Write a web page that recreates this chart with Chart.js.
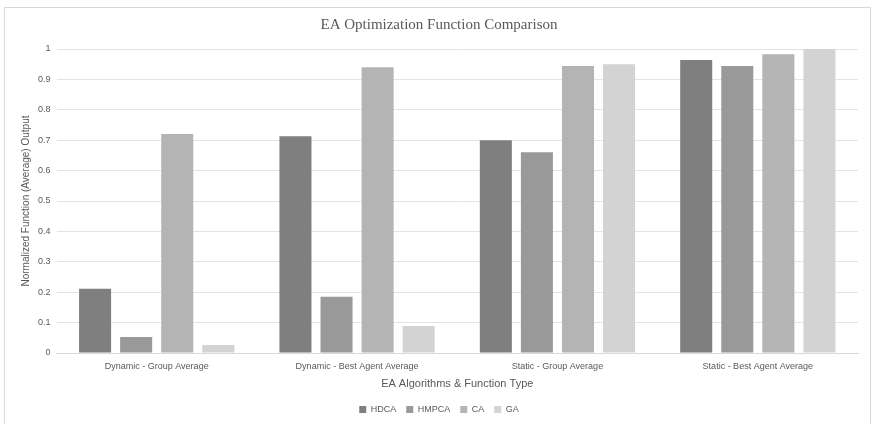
<!DOCTYPE html>
<html>
<head>
<meta charset="utf-8">
<script src="https://cdn.jsdelivr.net/npm/chart.js@4/dist/chart.umd.min.js"></script>
<style>
  html, body { margin: 0; padding: 0; background: #fff; }
  #wrap { position: relative; width: 878px; height: 424px; }
  #frame { position: absolute; left: 4px; top: 7px; width: 865px; height: 420px; border: 1px solid #d9d9d9; pointer-events: none; }
</style>
</head>
<body>
<div id="wrap">
  <canvas id="eaChart" width="878" height="424"></canvas>
  <div id="frame"></div>
</div>
<script>
// 카테고리 / 시리즈 데이터
const categories = ['Dynamic - Group Average', 'Dynamic - Best Agent Average', 'Static - Group Average', 'Static - Best Agent Average'];
const seriesNames = ['HDCA', 'HMPCA', 'CA', 'GA'];
const hdca  = [0.211, 0.713, 0.700, 0.964];
const hmpca = [0.053, 0.185, 0.660, 0.944];
const ca    = [0.720, 0.940, 0.944, 0.983];
const ga    = [0.026, 0.089, 0.950, 1.000];
const seriesColors = ['#7f7f7f', '#999999', '#b4b4b4', '#d3d3d3'];

const ctx = document.getElementById('eaChart');
new Chart(ctx, {
  type: 'bar',
  data: {
    labels: categories,
    datasets: [hdca, hmpca, ca, ga].map((vals, i) => ({
      label: seriesNames[i],
      data: vals,
      backgroundColor: seriesColors[i],
      categoryPercentage: 0.82,
      barPercentage: 0.78
    }))
  },
  options: {
    responsive: false,
    animation: false,
    layout: { padding: { left: 20, right: 20, top: 12, bottom: 0 } },
    plugins: {
      title: {
        display: true,
        text: 'EA Optimization Function Comparison',
        color: '#595959',
        font: { family: '"Liberation Serif", "DejaVu Serif", serif', size: 15, weight: 'normal' },
        padding: { top: 4, bottom: 15 }
      },
      legend: {
        position: 'bottom',
        labels: {
          boxWidth: 7,
          boxHeight: 7,
          padding: 10,
          color: '#595959',
          font: { family: '"Liberation Sans", Arial, sans-serif', size: 9 }
        }
      },
      tooltip: { enabled: false }
    },
    scales: {
      x: {
        grid: { display: false, drawTicks: false },
        border: { color: '#d9d9d9' },
        ticks: {
          color: '#595959',
          padding: 8,
          font: { family: '"Liberation Sans", Arial, sans-serif', size: 9 }
        },
        title: {
          display: true,
          text: 'EA Algorithms & Function Type',
          color: '#595959',
          font: { family: '"Liberation Sans", Arial, sans-serif', size: 11 },
          padding: { top: -2, bottom: 4 }
        }
      },
      y: {
        min: 0,
        max: 1,
        grid: { color: '#e4e4e4', drawTicks: false },
        border: { display: false },
        ticks: {
          stepSize: 0.1,
          color: '#595959',
          padding: 6,
          font: { family: '"Liberation Sans", Arial, sans-serif', size: 9 },
          callback: v => String(Math.round(v * 10) / 10)
        },
        title: {
          display: true,
          text: 'Normalized Function (Average) Output',
          color: '#595959',
          font: { family: '"Liberation Sans", Arial, sans-serif', size: 10 },
          padding: { top: 0, bottom: 0 }
        }
      }
    }
  }
});
</script>
</body>
</html>
